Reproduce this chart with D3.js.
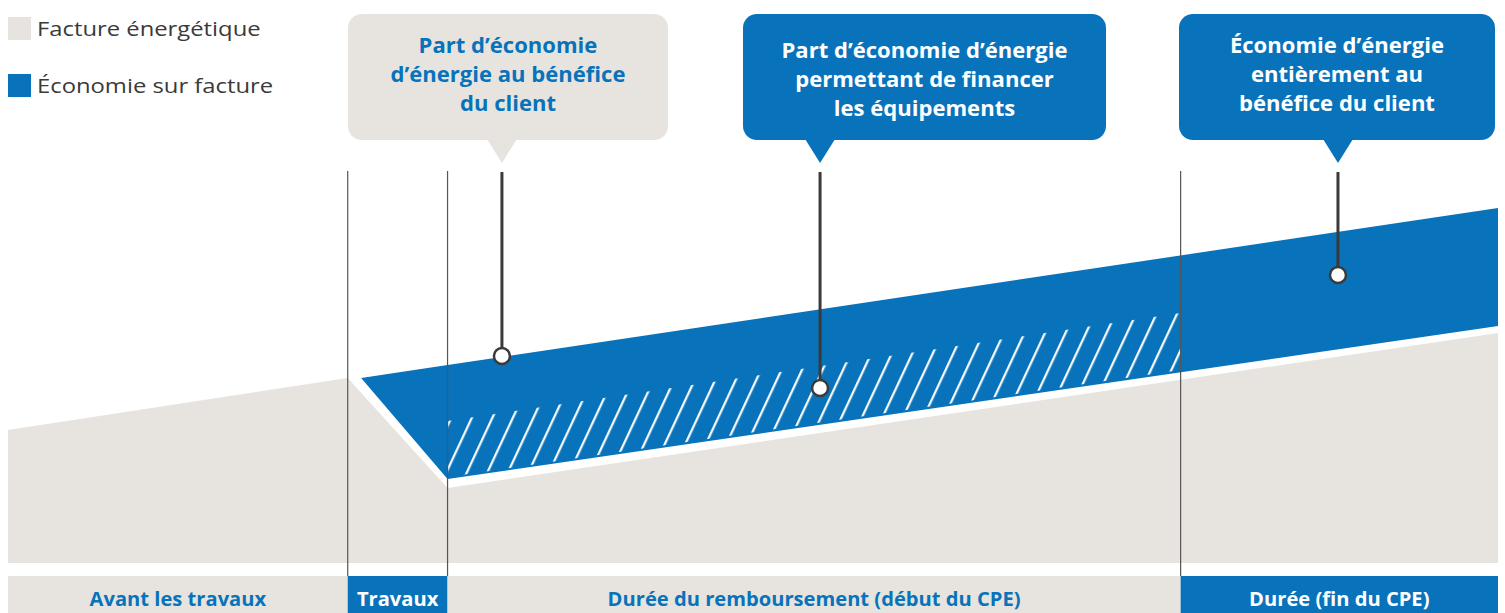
<!DOCTYPE html>
<html lang="fr">
<head>
<meta charset="utf-8">
<title>Contrat de performance énergétique</title>
<script src="https://cdn.jsdelivr.net/npm/d3@7"></script>
<style>
  html, body { margin: 0; padding: 0; background: #fff; }
  svg { display: block; font-family: "Open Sans", sans-serif; }
</style>
</head>
<body>
<svg id="chart"></svg>
<script>
// Legend
const legendLabels = ['Facture énergétique', 'Économie sur facture'];

// Phases along the time axis (arbitrary units 0-100)
const phaseLabels = ['Avant les travaux', 'Travaux', 'Durée du remboursement (début du CPE)', 'Durée (fin du CPE)'];
const phaseStart = [0, 22.8, 29.5, 78.7];
const phaseEnd = [22.8, 29.5, 78.7, 100];

// Facture énergétique (grey area)
const factureTime = [0, 22.8, 29.5, 100];
const factureValue = [33.25, 46.25, 18.75, 57.5];

// Économie sur facture (blue band)
const economieTime = [23.7, 29.5, 100];
const economieLow = [46.25, 21, 59.25];
const economieHigh = [46.25, 49.5, 88.75];

// Part of the savings financing the equipment (hatched)
const financementTime = [29.5, 78.7];
const financementLow = [21, 47.75];
const financementHigh = [35.5, 62.5];

// Callouts and the point they refer to
const calloutLines = [
    ['Part d’économie', 'd’énergie au bénéfice', 'du client'],
    ['Part d’économie d’énergie', 'permettant de financer', 'les équipements'],
    ['Économie d’énergie', 'entièrement au', 'bénéfice du client']
];
const calloutTime = [33.15, 54.5, 89.26];
const calloutValue = [51.75, 43.75, 72];

const BLUE = '#0873ba';
const GREY = '#e7e4df';
const DARK = '#3a3a3a';

const width = 1505;
const height = 613;

const svg = d3.select('#chart')
    .attr('width', width)
    .attr('height', height);

// the original typeface is wider than Open Sans, stretch text a bit
function stretch(sel, factor) {
    sel.each(function() {
        const w = this.getComputedTextLength();
        d3.select(this)
            .attr('textLength', w * factor)
            .attr('lengthAdjust', 'spacingAndGlyphs');
    });
}

// Scales
const x = d3.scaleLinear().domain([0, 100]).range([8, 1498]);
const y = d3.scaleLinear().domain([0, 100]).range([563, 163]);

// Hatch pattern
svg.append('defs')
    .append('pattern')
    .attr('id', 'hatch')
    .attr('patternUnits', 'userSpaceOnUse')
    .attr('width', 18.6)
    .attr('height', 40)
    .attr('patternTransform', 'rotate(25)')
    .append('line')
    .attr('x1', 9).attr('x2', 9)
    .attr('y1', -2).attr('y2', 42)
    .attr('stroke', '#fff')
    .attr('stroke-width', 2.2);

// Grey area
const factureData = factureTime.map((t, i) => ({t, v: factureValue[i]}));
svg.append('path')
    .datum(factureData)
    .attr('fill', GREY)
    .attr('d', d3.area().x(d => x(d.t)).y0(y(0)).y1(d => y(d.v)));

// Blue band
const economieData = economieTime.map((t, i) => ({t, lo: economieLow[i], hi: economieHigh[i]}));
svg.append('path')
    .datum(economieData)
    .attr('fill', BLUE)
    .attr('d', d3.area().x(d => x(d.t)).y0(d => y(d.lo)).y1(d => y(d.hi)));

// Hatched part
const financementData = financementTime.map((t, i) => ({t, lo: financementLow[i], hi: financementHigh[i]}));
svg.append('path')
    .datum(financementData)
    .attr('fill', 'url(#hatch)')
    .attr('d', d3.area().x(d => x(d.t)).y0(d => y(d.lo) - 2).y1(d => y(d.hi)));

// Phase separators
svg.selectAll('.sep')
    .data(phaseStart.slice(1))
    .enter()
    .append('line')
    .attr('class', 'sep')
    .attr('x1', d => x(d)).attr('x2', d => x(d))
    .attr('y1', 171).attr('y2', 576)
    .attr('stroke', '#555')
    .attr('stroke-width', 1.2);

// Phase bar at the bottom
const phases = phaseLabels.map((label, i) => ({label, start: phaseStart[i], end: phaseEnd[i], filled: i % 2 === 1}));
svg.selectAll('.phase')
    .data(phases)
    .enter()
    .append('rect')
    .attr('class', 'phase')
    .attr('x', d => x(d.start))
    .attr('y', 576)
    .attr('width', d => x(d.end) - x(d.start))
    .attr('height', 40)
    .attr('fill', d => d.filled ? BLUE : GREY);

const phaseText = svg.selectAll('.phase-label')
    .data(phases)
    .enter()
    .append('text')
    .attr('class', 'phase-label')
    .attr('x', d => (x(d.start) + x(d.end)) / 2)
    .attr('y', 606)
    .attr('text-anchor', 'middle')
    .style('font-size', '19px')
    .style('font-weight', 700)
    .style('fill', d => d.filled ? '#fff' : BLUE)
    .text(d => d.label);
stretch(phaseText, 1.06);

// Legend
const legendColors = [GREY, BLUE];
const legend = svg.selectAll('.legend')
    .data(legendLabels)
    .enter()
    .append('g')
    .attr('class', 'legend')
    .attr('transform', (d, i) => `translate(8,${17 + i * 57})`);
legend.append('rect')
    .attr('width', 23).attr('height', 23)
    .attr('fill', (d, i) => legendColors[i]);
const legendText = legend.append('text')
    .attr('x', 29).attr('y', 19)
    .style('font-size', '20px')
    .style('fill', DARK)
    .text(d => d);
stretch(legendText, 1.19);

// Callouts
const boxes = [
    {x0: 348, x1: 668, fill: GREY, color: BLUE, baseline: 53},
    {x0: 743, x1: 1106, fill: BLUE, color: '#fff', baseline: 58},
    {x0: 1179, x1: 1495, fill: BLUE, color: '#fff', baseline: 53}
];
const callouts = calloutLines.map((lines, i) => ({lines, t: calloutTime[i], v: calloutValue[i], box: boxes[i]}));

const co = svg.selectAll('.callout')
    .data(callouts)
    .enter()
    .append('g')
    .attr('class', 'callout');

co.append('rect')
    .attr('x', d => d.box.x0)
    .attr('y', 14)
    .attr('width', d => d.box.x1 - d.box.x0)
    .attr('height', 126)
    .attr('rx', 14)
    .attr('fill', d => d.box.fill);

co.append('path')
    .attr('fill', d => d.box.fill)
    .attr('d', d => {
        const cx = x(d.t);
        return `M${cx - 15},139 L${cx + 15},139 L${cx},163 Z`;
    });

co.each(function(d) {
    const g = d3.select(this);
    d.lines.forEach((line, j) => {
        const t = g.append('text')
            .attr('x', (d.box.x0 + d.box.x1) / 2)
            .attr('y', d.box.baseline + j * 29)
            .attr('text-anchor', 'middle')
            .style('font-size', '21px')
            .style('font-weight', 700)
            .style('fill', d.box.color)
            .text(line);
        stretch(t, 1.05);
    });
});

co.append('line')
    .attr('x1', d => x(d.t)).attr('x2', d => x(d.t))
    .attr('y1', 172)
    .attr('y2', d => y(d.v))
    .attr('stroke', DARK)
    .attr('stroke-width', 3);

co.append('circle')
    .attr('cx', d => x(d.t))
    .attr('cy', d => y(d.v))
    .attr('r', 8)
    .attr('fill', '#fff')
    .attr('stroke', DARK)
    .attr('stroke-width', 2.5);
</script>
</body>
</html>
